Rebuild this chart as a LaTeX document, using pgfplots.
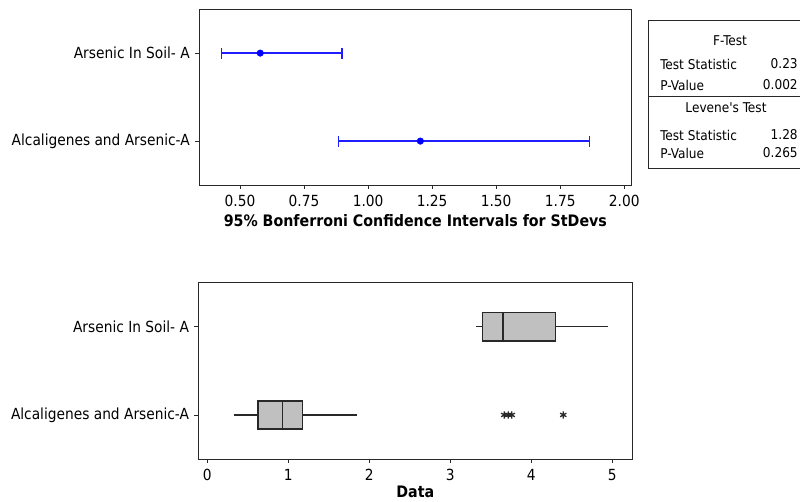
\documentclass[border=0pt]{standalone}
\usepackage{pgfplots}
\pgfplotsset{compat=1.18}
\usepgfplotslibrary{statistics}
\usepackage{fontspec}
\setmainfont{DejaVu Sans Condensed}

\definecolor{boxgray}{RGB}{192,192,192}
\definecolor{edgegray}{RGB}{40,40,40}
\definecolor{ciblue}{RGB}{30,30,255}

\pgfplotsset{
    mtbaxis/.style={
        scale only axis,
        anchor=south west,
        axis line style={edgegray, line width=1pt},
        tick align=outside,
        xtick pos=bottom,
        ytick pos=left,
        major tick length=4bp,
        tick style={edgegray, line width=0.8pt},
        /pgf/number format/assume math mode=true,
        ymin=0.5, ymax=2.5,
        ytick={1,2},
        yticklabels={Alcaligenes and Arsenic-A, Arsenic In Soil- A},
        xlabel style={font=\fontsize{15.8bp}{18bp}\selectfont\bfseries, yshift=2.5bp},
        xticklabel style={yshift=-1bp},
    },
    ciline/.style={draw=ciblue, line width=1.4pt, no marks},
}

\begin{document}
\fontsize{15.3bp}{18bp}\selectfont
\begin{tikzpicture}
\path[use as bounding box] (0,0) rectangle (800bp,502bp);

% top: Bonferroni intervals
\begin{axis}[
    mtbaxis,
    at={(199bp,316.9bp)},
    width=432.7bp, height=176bp,
    xmin=0.34, xmax=2.029,
    xtick={0.5,0.75,1,1.25,1.5,1.75,2},
    xticklabel style={/pgf/number format/.cd, fixed, fixed zerofill, precision=2},
    xlabel={95\% Bonferroni Confidence Intervals for StDevs},
    ]
    % Arsenic In Soil- A
    \addplot[ciline] coordinates {(0.4286,2) (0.898,2)};
    % Alcaligenes and Arsenic-A
    \addplot[ciline] coordinates {(0.884,1) (1.865,1)};
    % interval ends
    \addplot[only marks, mark=|, mark size=5.5bp,
        mark options={draw=ciblue, line width=1.4pt}]
        coordinates {(0.4286,2) (0.898,2) (0.884,1) (1.865,1)};
    % StDev estimates
    \addplot[only marks, mark=*, mark size=3.3bp,
        mark options={draw=blue, fill=blue}]
        coordinates {(0.579,2) (1.204,1)};
\end{axis}

% bottom: boxplots
\begin{axis}[
    mtbaxis,
    at={(198.3bp,43bp)},
    width=434bp, height=176.3bp,
    xmin=-0.111, xmax=5.247,
    xtick={0,1,2,3,4,5},
    xlabel={Data},
    xlabel style={yshift=3bp},
    boxplot/draw direction=x,
    boxplot/every box/.style={draw=edgegray, fill=boxgray, line width=1.4pt},
    boxplot/every median/.style={draw=edgegray, line width=1.4pt},
    boxplot/every whisker/.style={draw=edgegray, line width=1.4pt},
    ]
    \addplot[boxplot prepared={lower whisker=3.317, lower quartile=3.40, median=3.65,
        upper quartile=4.297, upper whisker=4.95, draw position=2,
        box extend=0.32, whisker extend=0},
        draw=edgegray, line width=1.4pt] coordinates {};
    \addplot[boxplot prepared={lower whisker=0.325, lower quartile=0.626, median=0.927,
        upper quartile=1.178, upper whisker=1.852, draw position=1,
        box extend=0.32, whisker extend=0},
        draw=edgegray, line width=1.4pt] coordinates {};
    \addplot[only marks, mark=asterisk, mark size=3.6bp,
        mark options={draw=edgegray, line width=1.3pt}]
        coordinates {(3.667,1) (3.716,1) (3.758,1) (4.395,1)};
\end{axis}

% test summary
\begin{scope}[every node/.style={font=\fontsize{13.5bp}{16bp}\selectfont}]
\draw[edgegray, line width=0.8pt] (800bp,482bp) -- (648bp,482bp) -- (648bp,334bp) -- (800bp,334bp);
\draw[edgegray, line width=0.8pt] (648bp,406bp) -- (800bp,406bp);
\node at (730bp,461bp) {F-Test};
\node[anchor=west] at (655bp,438bp) {Test Statistic};
\node[anchor=east] at (803bp,438bp) {0.23};
\node[anchor=west] at (655bp,417bp) {P-Value};
\node[anchor=east] at (803bp,417bp) {0.002};
\node at (726bp,394bp) {Levene\textquotesingle s Test};
\node[anchor=west] at (655bp,367bp) {Test Statistic};
\node[anchor=east] at (803bp,367bp) {1.28};
\node[anchor=west] at (655bp,349bp) {P-Value};
\node[anchor=east] at (803bp,349bp) {0.265};
\end{scope}
\end{tikzpicture}
\end{document}
